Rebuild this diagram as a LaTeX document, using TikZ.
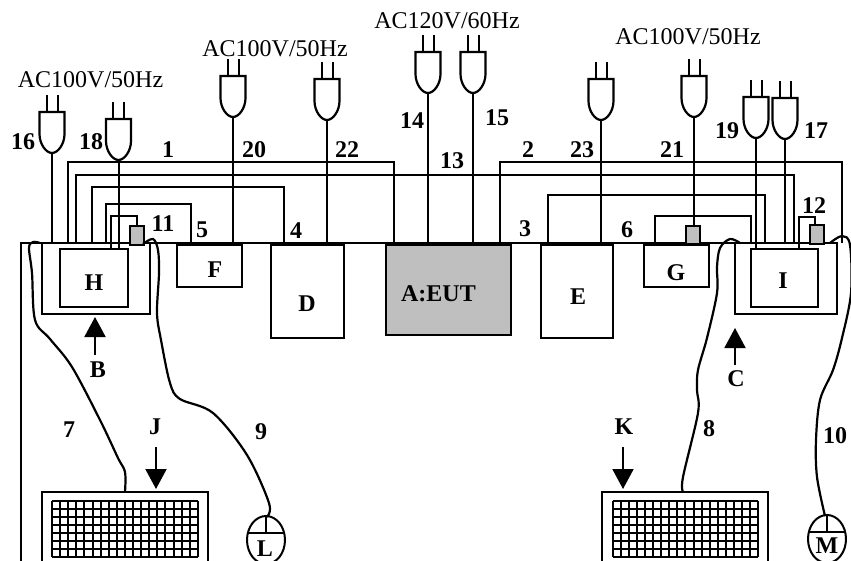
\documentclass[tikz,border=0pt]{standalone}
\usepackage{fontspec}
\setmainfont{Liberation Serif}
\usetikzlibrary{arrows.meta}
\tikzset{
  wire/.style={line width=2pt,black},
  hwire/.style={line width=2.2pt,black},
  boxn/.style={draw=black,line width=2pt,anchor=north west,inner sep=0pt,outer sep=0pt},
  conn/.style={boxn,fill=black!25},
  num/.style={font=\fontsize{24}{24}\selectfont\bfseries,inner sep=0pt},
  volt/.style={font=\fontsize{24}{24}\selectfont,inner sep=0pt},
  bigarrow/.style={line width=2pt,-{Triangle[length=20pt,width=21pt]},shorten >=0pt},
  plug/.pic={
    \draw[line width=2.2pt,fill=white] (-12.5,0) -- (12.5,0) -- (12.5,22)
      .. controls (12.5,32) and (6,41) .. (0,41)
      .. controls (-6,41) and (-12.5,32) .. (-12.5,22) -- cycle;
    \draw[wire] (-5.5,0) -- (-5.5,-17) (5.5,0) -- (5.5,-17);
    \coordinate (-tip) at (0,41);
  },
  keygrid/.pic={
    \foreach \i in {0,...,18} \draw[line width=2pt] (\i*8.1,0) -- (\i*8.1,56);
    \foreach \j in {0,...,7} \draw[line width=2pt] (0,\j*8) -- (145.8,\j*8);
  },
  mousebody/.pic={
    \draw[line width=2pt] (0,23) ellipse[x radius=19,y radius=24];
    \draw[wire] (-19,16) -- (19,16) (0,0) -- (0,16);
  }
}
\begin{document}
\begin{tikzpicture}[x=1pt,y=-1pt]
\useasboundingbox (0,0) rectangle (851,561);
\clip (0,0) rectangle (851,561);

% table
\coordinate (T) at (21,243);
\coordinate (TL) at (21,561);
\coordinate (TR) at (838,243);
\draw[hwire] (TL) -- (T) -- (TR);

% boxes
\node[boxn,minimum width=108pt,minimum height=71pt] (Bbox) at (41.5,243) {};
\node[boxn,minimum width=68pt,minimum height=58pt] (Hbox) at (60,249) {};
\node[boxn,minimum width=65pt,minimum height=42pt] (Fbox) at (177,245) {};
\node[boxn,minimum width=73pt,minimum height=93pt] (Dbox) at (271,245) {};
\node[boxn,fill=black!25,minimum width=125pt,minimum height=90pt] (Abox) at (386,245) {};
\node[boxn,minimum width=72pt,minimum height=93pt] (Ebox) at (541,245) {};
\node[boxn,minimum width=65pt,minimum height=42pt] (Gbox) at (644,245) {};
\node[boxn,minimum width=102pt,minimum height=71pt] (Cbox) at (735,243) {};
\node[boxn,minimum width=67pt,minimum height=57pt] (Ibox) at (751,249.5) {};

% connectors on the table
\node[conn,minimum width=14pt,minimum height=19pt] (c11) at (129.5,226) {};
\node[conn,minimum width=14pt,minimum height=18pt] (c21) at (686,226) {};
\node[conn,minimum width=14pt,minimum height=19pt] (c12) at (810,225) {};

% plugs
\pic (p16) at (52,112) {plug};
\pic (p18) at (118.5,119) {plug};
\pic (p20) at (233,76) {plug};
\pic (p22) at (327,79) {plug};
\pic (p14) at (428,52) {plug};
\pic (p15) at (473,52) {plug};
\pic (p23) at (601,79) {plug};
\pic (p21) at (694,76) {plug};
\pic (p19) at (756,97) {plug};
\pic (p17) at (785,98) {plug};

% power cords
\draw[wire] (p16-tip) -- (p16-tip |- T);
\draw[wire] (p18-tip) -- (p18-tip |- Hbox.north);
\draw[wire] (p20-tip) -- (p20-tip |- T);
\draw[wire] (p22-tip) -- (p22-tip |- T);
\draw[wire] (p14-tip) -- (p14-tip |- T);
\draw[wire] (p15-tip) -- (p15-tip |- T);
\draw[wire] (p23-tip) -- (p23-tip |- T);
\draw[wire] (p21-tip) -- (p21-tip |- c21.north);
\draw[wire] (p19-tip) -- (p19-tip |- Ibox.north);
\draw[wire] (p17-tip) -- (p17-tip |- T);

% signal cables
\coordinate (a1) at (68,243);  \coordinate (b1) at (394,243);
\coordinate (a2) at (500,243); \coordinate (b2) at (842,243);
\coordinate (a13) at (76,243); \coordinate (b13) at (794,243);
\coordinate (a4) at (92,243);  \coordinate (b4) at (284,243);
\coordinate (a5) at (105.5,243); \coordinate (b5) at (191,243);
\coordinate (a3) at (548,243); \coordinate (b3) at (764.5,243);
\coordinate (a6) at (655,243); \coordinate (b6) at (751,243);
\coordinate (a11) at (110.5,249); \coordinate (b11) at (137,226);
\coordinate (a12) at (799,249.5); \coordinate (b12) at (815,225);
\draw[wire] (a1) -- ++(0,-81) -| (b1);
\draw[wire] (a2) -- ++(0,-81) -| (b2);
\draw[wire] (a13) -- ++(0,-68) -| (b13);
\draw[wire] (a4) -- ++(0,-56) -| (b4);
\draw[wire] (a5) -- ++(0,-39) -| (b5);
\draw[wire] (a3) -- ++(0,-48) -| (b3);
\draw[wire] (a6) -- ++(0,-27) -| (b6);
\draw[wire] (a11) -- ++(0,-33) -| (b11);
\draw[wire] (a12) -- ++(0,-32.5) -| (b12);

% keyboards
\node[boxn,minimum width=166.5pt,minimum height=90pt] (Jbox) at (41.5,492) {};
\node[boxn,minimum width=166.5pt,minimum height=90pt] (Kbox) at (601.5,492) {};
\pic at (52,501) {keygrid};
\pic at (612.5,501) {keygrid};

% mice
\pic at (266,517) {mousebody};
\pic at (827,516) {mousebody};
\coordinate (Lm) at (267,517);
\coordinate (Mm) at (825,516);

% curly cables
\coordinate (s7) at (40,243);
\coordinate (e7) at (125,492);
\coordinate (s9) at (143,244);
\coordinate (s8) at (740,243);
\coordinate (e8) at (683,492);
\coordinate (s10) at (830,243);
\draw[hwire] plot[smooth,tension=.55] coordinates {(s7) (33,242) (29,248) (32,273) (35,320) (50,339) (72,367) (100,420) (118,458) (125,472) (e7)};
\draw[hwire] plot[smooth,tension=.55] coordinates {(s9) (153,239) (158,250) (159,273) (157,313) (161,340) (170,383) (180,399) (213,413) (247,455) (269,503) (Lm)};
\draw[hwire] plot[smooth,tension=.55] coordinates {(s8) (730,239) (720,248) (717,267) (717,293) (707,338) (698,370) (697,390) (698,413) (683,477) (e8)};
\draw[hwire] plot[smooth,tension=.55] coordinates {(s10) (842,236) (850,245) (851,293) (842,338) (833,370) (820,400) (816,440) (817,477) (Mm)};

% arrows
\coordinate (Jf) at (156,447); \coordinate (Jt) at (156,489);
\coordinate (Kf) at (623,447); \coordinate (Kt) at (623,489);
\coordinate (Bf) at (95,355);  \coordinate (Bt) at (95,317);
\coordinate (Cf) at (735,365); \coordinate (Ct) at (735,328);
\draw[bigarrow] (Jf) -- (Jt);
\draw[bigarrow] (Kf) -- (Kt);
\draw[bigarrow] (Bf) -- (Bt);
\draw[bigarrow] (Cf) -- (Ct);

% voltage labels
\node[volt] (v1) at (90.5,80) {AC100V/50Hz};
\node[volt] (v2) at (275,49) {AC100V/50Hz};
\node[volt] (v3) at (447,21) {AC120V/60Hz};
\node[volt] (v4) at (688,37) {AC100V/50Hz};

% numbers
\node[num] (n16) at (23,142) {16};
\node[num] (n18) at (91,142) {18};
\node[num] (n1) at (168,150) {1};
\node[num] (n20) at (254,150) {20};
\node[num] (n22) at (347,150) {22};
\node[num] (n14) at (412,121) {14};
\node[num] (n15) at (497,118) {15};
\node[num] (n13) at (452,161) {13};
\node[num] (n2) at (528,150) {2};
\node[num] (n23) at (582,150) {23};
\node[num] (n21) at (672,150) {21};
\node[num] (n19) at (727,131) {19};
\node[num] (n17) at (816,131) {17};
\node[num] (n11) at (163,224) {11};
\node[num] (n12) at (814,206) {12};
\node[num] (n5) at (202,230) {5};
\node[num] (n4) at (296,231) {4};
\node[num] (n3) at (525,229) {3};
\node[num] (n6) at (627,230) {6};
\node[num] (n7) at (69,430) {7};
\node[num] (n9) at (261,432) {9};
\node[num] (n8) at (709,429) {8};
\node[num] (n10) at (835,436) {10};

% letters
\node[num] (tH) at (94,283) {H};
\node[num] (tF) at (215,270) {F};
\node[num] (tD) at (307,304) {D};
\node[num] (tA) at (438.5,294) {A:EUT};
\node[num] (tE) at (578,297) {E};
\node[num] (tG) at (676,273) {G};
\node[num] (tI) at (783,281) {I};
\node[num] (tB) at (98,370) {B};
\node[num] (tC) at (736,379) {C};
\node[num] (tJ) at (155,427) {J};
\node[num] (tK) at (624,427) {K};
\node[num] (tL) at (265,549) {L};
\node[num] (tM) at (827,546) {M};
\end{tikzpicture}
\end{document}
